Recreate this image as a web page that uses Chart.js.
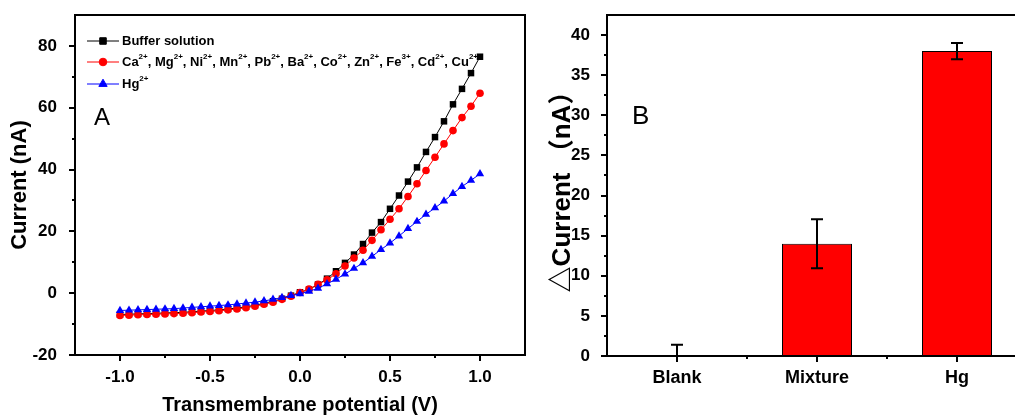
<!DOCTYPE html>
<html>
<head>
<meta charset="utf-8">
<title>I-V curves and current change</title>
<script src="https://cdn.jsdelivr.net/npm/chart.js@4.4.0/dist/chart.umd.min.js"></script>
<style>
  html, body { margin: 0; padding: 0; background: #fff; overflow: hidden; }
  #wrap { position: relative; width: 1015px; height: 417px; overflow: hidden; }
  #chartA { position: absolute; left: 0; top: 0; }
  #chartB { position: absolute; left: 525px; top: 0; }
</style>
</head>
<body>
<div id="wrap">
  <canvas id="chartA" width="535" height="417"></canvas>
  <canvas id="chartB" width="510" height="417"></canvas>
</div>
<script>
// Panel A: I-V curves
const potential = [
  -1.0, -0.95, -0.9, -0.85, -0.8, -0.75, -0.7, -0.65, -0.6, -0.55, -0.5,
  -0.45, -0.4, -0.35, -0.3, -0.25, -0.2, -0.15, -0.1, -0.05, 0.0,
  0.05, 0.1, 0.15, 0.2, 0.25, 0.3, 0.35, 0.4, 0.45, 0.5,
  0.55, 0.6, 0.65, 0.7, 0.75, 0.8, 0.85, 0.9, 0.95, 1.0
];
const bufferCurrent = [
  -6.9, -6.8, -6.7, -6.6, -6.5, -6.4, -6.3, -6.2, -6.0, -5.8, -5.6,
  -5.4, -5.1, -4.8, -4.4, -3.9, -3.3, -2.6, -1.8, -0.8, 0.3,
  1.2, 2.8, 4.7, 7.1, 9.8, 12.5, 15.9, 19.6, 23.0, 27.3,
  31.6, 36.1, 40.7, 45.7, 50.5, 55.6, 61.1, 66.1, 71.2, 76.5
];
const ionMixCurrent = [
  -7.2, -7.1, -7.0, -6.9, -6.8, -6.7, -6.6, -6.5, -6.3, -6.1, -5.9,
  -5.7, -5.4, -5.1, -4.7, -4.2, -3.6, -2.9, -2.0, -1.0, 0.2,
  1.3, 2.9, 4.3, 6.3, 8.8, 11.4, 13.9, 17.1, 20.5, 23.9,
  27.3, 31.3, 35.4, 39.7, 44.0, 48.3, 52.6, 56.8, 60.5, 64.7
];
const mercuryCurrent = [
  -5.6, -5.5, -5.4, -5.3, -5.2, -5.1, -5.0, -4.8, -4.6, -4.4, -4.2,
  -4.0, -3.8, -3.5, -3.2, -2.9, -2.5, -2.0, -1.4, -0.8, -0.2,
  0.6, 1.6, 3.0, 4.5, 6.2, 8.0, 9.8, 11.9, 14.1, 16.2,
  18.5, 20.9, 23.2, 25.5, 27.6, 29.8, 32.2, 34.5, 36.5, 38.6
];
const seriesLabels = [
  'Buffer solution',
  'Ca^{2+}, Mg^{2+}, Ni^{2+}, Mn^{2+}, Pb^{2+}, Ba^{2+}, Co^{2+}, Zn^{2+}, Fe^{3+}, Cd^{2+}, Cu^{2+}',
  'Hg^{2+}'
];
const potentialTicks = [-1.0, -0.5, 0.0, 0.5, 1.0];
const potentialMinor = [-0.75, -0.25, 0.25, 0.75];
const currentTicks = [-20, 0, 20, 40, 60, 80];
const currentMinor = [-10, 10, 30, 50, 70];

// Panel B: current change per sample
const groups = ['Blank', 'Mixture', 'Hg'];
const deltaCurrent = [0, 14, 38];
const deltaError = [1.4, 3.05, 1.0];
const deltaTicks = [0, 5, 10, 15, 20, 25, 30, 35, 40];
const deltaMinor = [2.5, 7.5, 12.5, 17.5, 22.5, 27.5, 32.5, 37.5];

const FONT = "'Liberation Sans', Arial, 'Noto Sans CJK SC', sans-serif";

// box around the plot area plus outward major/minor ticks
const frame = {
  id: 'frame',
  afterDraw(chart, args, opts) {
    const { ctx, chartArea: a } = chart;
    ctx.save();
    ctx.strokeStyle = '#000';
    ctx.lineWidth = 2;
    ctx.strokeRect(a.left, a.top, a.right - a.left, a.bottom - a.top);
    const marks = (scale, vals, len) => {
      vals.forEach(v => {
        const p = Math.round(scale.getPixelForValue(v));
        ctx.beginPath();
        if (scale.isHorizontal()) {
          ctx.moveTo(p, a.bottom);
          ctx.lineTo(p, a.bottom + len);
        } else {
          ctx.moveTo(a.left, p);
          ctx.lineTo(a.left - len, p);
        }
        ctx.stroke();
      });
    };
    marks(chart.scales.x, opts.xMajor, 6);
    marks(chart.scales.x, opts.xMinor, 3);
    marks(chart.scales.y, opts.yMajor, 6);
    marks(chart.scales.y, opts.yMinor, 3);
    ctx.restore();
  }
};

// panel letter in the upper left of the plot
const panelTag = {
  id: 'panelTag',
  afterDraw(chart, args, opts) {
    const { ctx, chartArea: a } = chart;
    ctx.save();
    ctx.fillStyle = '#000';
    ctx.font = `${opts.size}px ${FONT}`;
    ctx.textBaseline = 'alphabetic';
    ctx.fillText(opts.text, a.left + opts.dx, a.top + opts.dy);
    ctx.restore();
  }
};

// text with ^{..} parts raised as superscripts
function drawRich(ctx, text, x, y, size, supSize) {
  text.split(/(\^\{[^}]*\})/).forEach(part => {
    if (!part) return;
    if (part.startsWith('^{')) {
      const s = part.slice(2, -1);
      ctx.font = `bold ${supSize}px ${FONT}`;
      ctx.fillText(s, x, y - size * 0.42);
      x += ctx.measureText(s).width;
    } else {
      ctx.font = `bold ${size}px ${FONT}`;
      ctx.fillText(part, x, y);
      x += ctx.measureText(part).width;
    }
  });
}

// line + marker legend, drawn under the data
const lineLegend = {
  id: 'lineLegend',
  beforeDatasetsDraw(chart) {
    const { ctx, chartArea: a } = chart;
    const rows = [26, 47, 69];
    ctx.save();
    ctx.textBaseline = 'middle';
    chart.data.datasets.forEach((ds, i) => {
      const y = a.top + rows[i];
      ctx.strokeStyle = ds.borderColor;
      ctx.lineWidth = 1;
      ctx.beginPath();
      ctx.moveTo(a.left + 12, y);
      ctx.lineTo(a.left + 44, y);
      ctx.stroke();
      ctx.fillStyle = ds.pointBackgroundColor;
      Chart.helpers.drawPoint(ctx, {
        pointStyle: ds.pointStyle, radius: ds.pointRadius, rotation: 0, borderWidth: 1
      }, a.left + 28, y);
      ctx.fillStyle = '#000';
      drawRich(ctx, seriesLabels[i], a.left + 47, y, 13, 8);
    });
    ctx.restore();
  }
};

// vertical error bars with caps, clipped to the plot area
const errorBars = {
  id: 'errorBars',
  afterDatasetsDraw(chart) {
    const { ctx, chartArea: a } = chart;
    const ds = chart.data.datasets[0];
    const meta = chart.getDatasetMeta(0);
    const y = chart.scales.y;
    ctx.save();
    ctx.beginPath();
    ctx.rect(a.left, a.top, a.right - a.left, a.bottom - a.top);
    ctx.clip();
    ctx.strokeStyle = '#000';
    ctx.lineWidth = 2;
    meta.data.forEach((bar, i) => {
      const v = ds.data[i], e = ds.errors[i];
      const top = y.getPixelForValue(v + e);
      const bot = y.getPixelForValue(v - e);
      const x = Math.round(bar.x);
      ctx.beginPath();
      ctx.moveTo(x, top); ctx.lineTo(x, bot);
      ctx.moveTo(x - 6, top); ctx.lineTo(x + 6, top);
      ctx.moveTo(x - 6, bot); ctx.lineTo(x + 6, bot);
      ctx.stroke();
    });
    ctx.restore();
  }
};

const fixTicks = vals => scale => { scale.ticks = vals.map(v => ({ value: v })); };

// fixed axis box sizes, no extra room for edge labels
const fixHeight = h => s => { s.height = h; s.paddingLeft = 0; s.paddingRight = 0; };
const fixWidth = w => s => { s.width = w; s.paddingTop = 0; s.paddingBottom = 0; };

const seriesStyle = (color, shape, radius, order) => ({
  borderColor: color,
  backgroundColor: color,
  pointBackgroundColor: color,
  pointBorderColor: color,
  pointStyle: shape,
  pointRadius: radius,
  pointBorderWidth: 0,
  borderWidth: 1,
  tension: 0,
  order: order
});

new Chart(document.getElementById('chartA'), {
  type: 'line',
  data: {
    labels: potential,
    datasets: [
      { label: 'Buffer solution', data: bufferCurrent, ...seriesStyle('#000000', 'rect', 4.6, 3) },
      { label: 'Metal ions', data: ionMixCurrent, ...seriesStyle('#ff0000', 'circle', 3.8, 2) },
      { label: 'Hg2+', data: mercuryCurrent, ...seriesStyle('#0000ff', 'triangle', 4.8, 1) }
    ]
  },
  options: {
    responsive: false,
    animation: false,
    layout: { padding: { top: 15, right: 10, left: 0, bottom: 0 } },
    plugins: {
      legend: { display: false },
      tooltip: { enabled: false },
      frame: { xMajor: potentialTicks, xMinor: potentialMinor, yMajor: currentTicks, yMinor: currentMinor },
      panelTag: { text: 'A', size: 24, dx: 19, dy: 110 }
    },
    scales: {
      x: {
        type: 'linear',
        min: -1.25,
        max: 1.25,
        afterBuildTicks: fixTicks(potentialTicks),
        afterFit: fixHeight(62),
        grid: { display: false },
        border: { display: false },
        ticks: {
          color: '#000',
          padding: 4,
          font: { family: FONT, size: 17, weight: 'bold' },
          callback: v => v.toFixed(1)
        },
        title: {
          display: true,
          text: 'Transmembrane potential (V)',
          color: '#000',
          padding: { top: 0, bottom: 0 },
          font: { family: FONT, size: 20, weight: 'bold' }
        }
      },
      y: {
        type: 'linear',
        min: -20,
        max: 90,
        afterBuildTicks: fixTicks(currentTicks),
        afterFit: fixWidth(75),
        grid: { display: false },
        border: { display: false },
        ticks: {
          color: '#000',
          padding: 10,
          font: { family: FONT, size: 17, weight: 'bold' }
        },
        title: {
          display: true,
          text: 'Current (nA)',
          color: '#000',
          padding: { top: 7, bottom: 0 },
          font: { family: FONT, size: 22, weight: 'bold' }
        }
      }
    }
  },
  plugins: [lineLegend, frame, panelTag]
});

new Chart(document.getElementById('chartB'), {
  type: 'bar',
  data: {
    labels: groups,
    datasets: [{
      data: deltaCurrent,
      errors: deltaError,
      backgroundColor: '#ff0000',
      borderColor: '#000000',
      borderWidth: 1,
      barPercentage: 0.5,
      categoryPercentage: 1.0
    }]
  },
  options: {
    responsive: false,
    animation: false,
    layout: { padding: { top: 15, right: 8, left: 0, bottom: 0 } },
    plugins: {
      legend: { display: false },
      tooltip: { enabled: false },
      frame: { xMajor: [0, 1, 2], xMinor: [0.5, 1.5], yMajor: deltaTicks, yMinor: deltaMinor },
      panelTag: { text: 'B', size: 26, dx: 25, dy: 109 }
    },
    scales: {
      x: {
        type: 'category',
        offset: true,
        afterFit: fixHeight(61),
        grid: { display: false },
        border: { display: false },
        ticks: {
          color: '#000',
          padding: 3,
          font: { family: FONT, size: 18, weight: 'bold' }
        }
      },
      y: {
        type: 'linear',
        min: 0,
        max: 42.5,
        afterBuildTicks: fixTicks(deltaTicks),
        afterFit: fixWidth(82),
        grid: { display: false },
        border: { display: false },
        ticks: {
          color: '#000',
          padding: 9,
          font: { family: FONT, size: 17, weight: 'bold' }
        },
        title: {
          display: true,
          text: '△Current （nA）',
          color: '#000',
          padding: { top: 22, bottom: 0 },
          font: { family: FONT, size: 26, weight: 'bold' }
        }
      }
    }
  },
  plugins: [errorBars, frame, panelTag]
});
</script>
</body>
</html>
